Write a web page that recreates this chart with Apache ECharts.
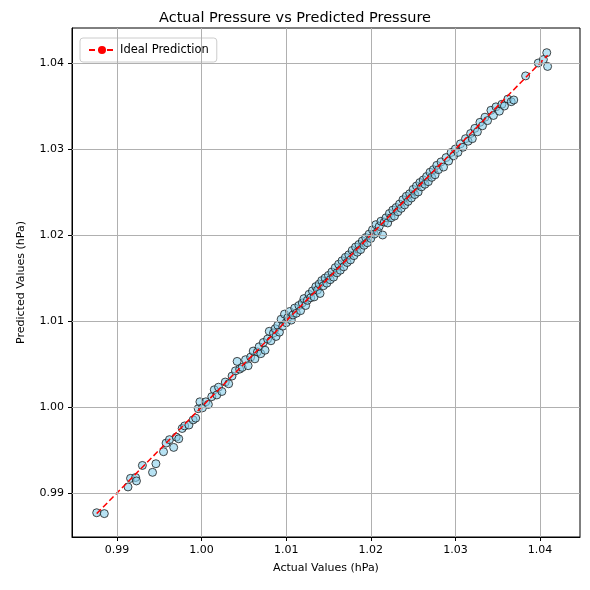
<!DOCTYPE html>
<html>
<head>
<meta charset="utf-8">
<script src="https://cdn.jsdelivr.net/npm/echarts@6/dist/echarts.min.js"></script>
<style>html,body{margin:0;padding:0;background:#fff}#chart{width:590px;height:590px}</style>
</head>
<body>
<div id="chart"></div>
<script>
const points = [[0.9876,0.9877],[0.9885,0.9876],[0.9913,0.9907],[0.9916,0.9917],[0.9922,0.9918],[0.9923,0.9914],[0.9930,0.9932],[0.9942,0.9924],[0.9946,0.9934],[0.9955,0.9948],[0.9958,0.9958],[0.9962,0.9962],[0.9967,0.9953],[0.9970,0.9965],[0.9973,0.9963],[0.9977,0.9975],[0.9980,0.9978],[0.9985,0.9979],[0.9990,0.9985],[0.9993,0.9987],[0.9996,0.9998],[0.9998,1.0006],[1.0001,0.9999],[1.0005,1.0006],[1.0008,1.0003],[1.0012,1.0012],[1.0015,1.0020],[1.0018,1.0014],[1.0020,1.0023],[1.0024,1.0018],[1.0028,1.0029],[1.0032,1.0027],[1.0036,1.0036],[1.0040,1.0042],[1.0042,1.0053],[1.0045,1.0044],[1.0048,1.0046],[1.0052,1.0055],[1.0055,1.0048],[1.0058,1.0058],[1.0061,1.0065],[1.0063,1.0056],[1.0066,1.0064],[1.0068,1.0070],[1.0070,1.0062],[1.0073,1.0075],[1.0075,1.0066],[1.0078,1.0079],[1.0080,1.0088],[1.0082,1.0077],[1.0085,1.0086],[1.0087,1.0091],[1.0088,1.0082],[1.0090,1.0095],[1.0092,1.0087],[1.0094,1.0102],[1.0096,1.0094],[1.0098,1.0108],[1.0100,1.0098],[1.0102,1.0104],[1.0104,1.0111],[1.0106,1.0101],[1.0108,1.0107],[1.0110,1.0115],[1.0112,1.0109],[1.0115,1.0118],[1.0117,1.0112],[1.0119,1.0121],[1.0121,1.0126],[1.0123,1.0118],[1.0125,1.0124],[1.0127,1.0131],[1.0129,1.0127],[1.0131,1.0135],[1.0133,1.0128],[1.0135,1.0140],[1.0137,1.0136],[1.0139,1.0143],[1.0140,1.0132],[1.0142,1.0147],[1.0144,1.0141],[1.0146,1.0150],[1.0148,1.0144],[1.0150,1.0153],[1.0152,1.0148],[1.0154,1.0157],[1.0156,1.0151],[1.0158,1.0162],[1.0160,1.0156],[1.0162,1.0166],[1.0164,1.0159],[1.0166,1.0170],[1.0168,1.0163],[1.0170,1.0174],[1.0172,1.0168],[1.0174,1.0177],[1.0176,1.0171],[1.0178,1.0182],[1.0180,1.0176],[1.0182,1.0186],[1.0184,1.0180],[1.0186,1.0189],[1.0188,1.0183],[1.0190,1.0193],[1.0192,1.0188],[1.0194,1.0197],[1.0196,1.0191],[1.0198,1.0201],[1.0200,1.0196],[1.0202,1.0206],[1.0204,1.0201],[1.0206,1.0212],[1.0208,1.0204],[1.0210,1.0210],[1.0212,1.0216],[1.0214,1.0200],[1.0216,1.0215],[1.0218,1.0220],[1.0220,1.0214],[1.0222,1.0225],[1.0224,1.0220],[1.0226,1.0229],[1.0228,1.0222],[1.0230,1.0232],[1.0232,1.0227],[1.0234,1.0236],[1.0236,1.0231],[1.0238,1.0241],[1.0240,1.0235],[1.0242,1.0245],[1.0244,1.0239],[1.0246,1.0248],[1.0248,1.0243],[1.0250,1.0253],[1.0252,1.0247],[1.0254,1.0257],[1.0256,1.0250],[1.0258,1.0261],[1.0260,1.0256],[1.0262,1.0264],[1.0264,1.0259],[1.0266,1.0268],[1.0268,1.0262],[1.0270,1.0273],[1.0272,1.0267],[1.0274,1.0276],[1.0276,1.0270],[1.0278,1.0281],[1.0280,1.0276],[1.0283,1.0285],[1.0286,1.0279],[1.0289,1.0290],[1.0292,1.0286],[1.0295,1.0296],[1.0298,1.0292],[1.0300,1.0300],[1.0303,1.0296],[1.0306,1.0306],[1.0309,1.0302],[1.0312,1.0312],[1.0315,1.0309],[1.0318,1.0318],[1.0320,1.0312],[1.0323,1.0324],[1.0326,1.0320],[1.0329,1.0331],[1.0332,1.0327],[1.0335,1.0337],[1.0338,1.0333],[1.0342,1.0345],[1.0345,1.0339],[1.0348,1.0349],[1.0352,1.0344],[1.0355,1.0352],[1.0358,1.0350],[1.0362,1.0358],[1.0366,1.0355],[1.0369,1.0357],[1.0383,1.0385],[1.0398,1.0400],[1.0404,1.0404],[1.0408,1.0412],[1.0409,1.0396]];
const idealLine = [[0.9876,0.9876],[1.0409,1.0409]];
const xTicks = [0.99, 1.00, 1.01, 1.02, 1.03, 1.04];
const yTicks = [0.99, 1.00, 1.01, 1.02, 1.03, 1.04];

const chart = echarts.init(document.getElementById('chart'));
const label = {color: '#000', fontSize: 11, fontFamily: 'DejaVu Sans', formatter: v => v.toFixed(2)};
const tick = {show: true, length: 4, lineStyle: {color: '#000'}};
chart.setOption({
  animation: false,
  title: {text: 'Actual Pressure vs Predicted Pressure', left: 'center', top: 6,
    textStyle: {fontSize: 14.5, fontWeight: 'normal', fontFamily: 'DejaVu Sans', color: '#000'}},
  legend: {left: 80, top: 38, padding: [6, 8], borderColor: '#ccc', borderWidth: 1, borderRadius: 3,
    backgroundColor: '#fff', itemWidth: 26, itemHeight: 10,
    textStyle: {fontSize: 11.5, fontFamily: 'DejaVu Sans', color: '#000'},
    data: ['Ideal Prediction']},
  grid: {left: 72, right: 10, top: 28, bottom: 53, show: true, borderColor: '#000', borderWidth: 1},
  xAxis: {type: 'value', min: 0.98468, max: 1.04473, name: 'Actual Values (hPa)', nameGap: 26,
    nameLocation: 'middle', nameTextStyle: {color: '#000', fontSize: 11, fontFamily: 'DejaVu Sans'},
    axisLine: {show: true, onZero: false, lineStyle: {color: '#000'}},
    axisLabel: Object.assign({}, label, {customValues: xTicks}),
    axisTick: Object.assign({}, tick, {customValues: xTicks}),
    splitLine: {show: false}},
  yAxis: {type: 'value', min: 0.98488, max: 1.04407, name: 'Predicted Values (hPa)', nameGap: 45,
    nameLocation: 'middle', nameTextStyle: {color: '#000', fontSize: 11, fontFamily: 'DejaVu Sans'},
    axisLine: {show: true, onZero: false, lineStyle: {color: '#000'}},
    axisLabel: Object.assign({}, label, {customValues: yTicks}),
    axisTick: Object.assign({}, tick, {customValues: yTicks}),
    splitLine: {show: false}},
  series: [
    {type: 'line', name: 'grid', silent: true, data: [], markLine: {silent: true, symbol: 'none', label: {show: false},
      lineStyle: {color: '#b0b0b0', type: 'solid', width: 1},
      data: xTicks.map(v => ({xAxis: v})).concat(yTicks.map(v => ({yAxis: v})))}},
    {type: 'scatter', name: 'points', data: points, symbolSize: 8, z: 3,
      itemStyle: {color: 'rgba(135,206,235,0.75)', borderColor: '#1a1a1a', borderWidth: 1}},
    {type: 'line', name: 'Ideal Prediction', data: idealLine, symbol: 'none', z: 4,
      itemStyle: {color: 'red'},
      lineStyle: {color: 'red', type: [6, 3], width: 1.5}}
  ]
});
</script>
</body>
</html>
